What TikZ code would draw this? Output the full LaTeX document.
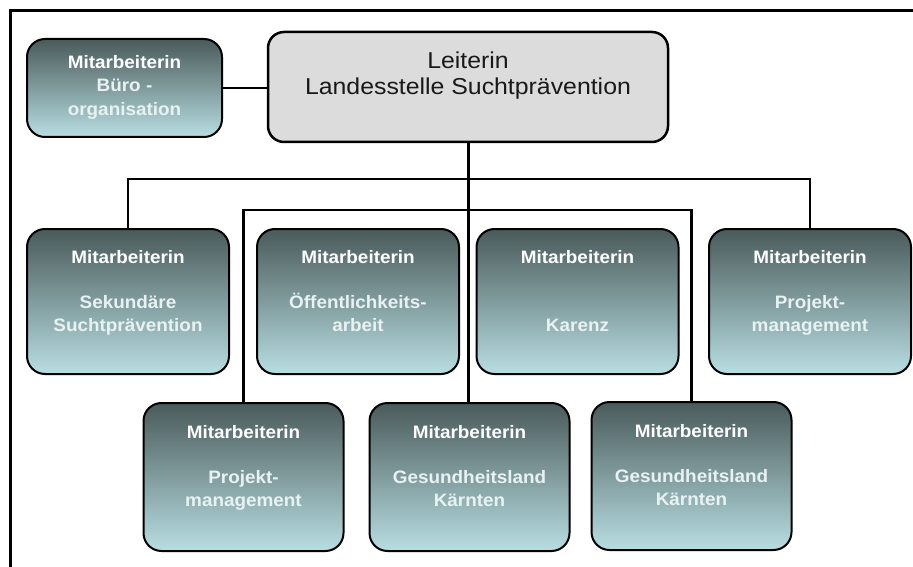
\documentclass[tikz,border=0pt]{standalone}
\usepackage{fontspec}
\setmainfont{Liberation Sans}
\newfontfamily\boxfont[FakeStretch=1.05]{Liberation Sans}
\newfontfamily\headfont[FakeStretch=1.08]{Liberation Sans}
\definecolor{boxtop}{RGB}{74,90,90}
\definecolor{boxbot}{RGB}{184,222,226}
\definecolor{headfill}{RGB}{220,220,220}
\definecolor{subtext}{RGB}{232,242,243}

\begin{document}
\begin{tikzpicture}[x=1pt,y=-1pt,
  staff/.style={draw=black, line width=2pt, rounded corners=18pt,
    top color=boxtop, bottom color=boxbot, inner sep=0pt},
  head/.style={draw=black, line width=2.5pt, rounded corners=16pt,
    fill=headfill, inner sep=0pt, minimum width=400pt, minimum height=110pt},
  rowbox/.style={staff, minimum width=202pt, minimum height=145pt},
  lowbox/.style={staff, minimum width=200pt, minimum height=148pt},
  stafftext/.style={anchor=north, inner sep=0pt, align=center, text=subtext,
    font=\boxfont\bfseries\fontsize{18}{22.7}\selectfont},
  headtext/.style={anchor=north, inner sep=0pt, align=center, text=black!90,
    font=\headfont\fontsize{23}{26}\selectfont},
  link/.style={draw=black, line width=2.2pt},
  trunk/.style={draw=black, line width=3pt}
]
\useasboundingbox (0,0) rectangle (913,567);

% outer frame (open to the right and bottom)
\draw[line width=3pt] (10,575) -- (10,11) -- (920,11);

% head of the office
\node[head] (lead) at (468,87) {};
\node[headtext, yshift=-21pt] (leadtxt) at (lead.north)
  {Leiterin\\Landesstelle Suchtprävention};

% office organisation
\node[staff, minimum width=195pt, minimum height=98pt] (buero) at (124.5,88) {};
\node[stafftext, yshift=-17pt] (buerotxt) at (buero.north)
  {\textcolor{white}{Mitarbeiterin}\\[1pt]Büro -\\[1pt]organisation};

% first row
\node[rowbox] (sek) at (128,301.5) {};
\node[stafftext, yshift=-22pt] (sektxt) at (sek.north)
  {\textcolor{white}{Mitarbeiterin}\\[22.7pt]Sekundäre\\Suchtprävention};
\node[rowbox] (oeff) at (358,301.5) {};
\node[stafftext, yshift=-22pt] (oefftxt) at (oeff.north)
  {\textcolor{white}{Mitarbeiterin}\\[22.7pt]Öffentlichkeits-\\arbeit};
\node[rowbox] (karenz) at (577.5,301.5) {};
\node[stafftext, yshift=-22pt] (karenztxt) at (karenz.north)
  {\textcolor{white}{Mitarbeiterin}\\[45.4pt]Karenz};
\node[rowbox] (pmA) at (810,301.5) {};
\node[stafftext, yshift=-22pt] (pmAtxt) at (pmA.north)
  {\textcolor{white}{Mitarbeiterin}\\[22.7pt]Projekt-\\management};

% second row
\node[lowbox] (pmB) at (243.5,477) {};
\node[stafftext, yshift=-23pt] (pmBtxt) at (pmB.north)
  {\textcolor{white}{Mitarbeiterin}\\[22.7pt]Projekt-\\management};
\node[lowbox] (gkA) at (469.5,477) {};
\node[stafftext, yshift=-23pt] (gkAtxt) at (gkA.north)
  {\textcolor{white}{Mitarbeiterin}\\[22.7pt]Gesundheitsland\\Kärnten};
\node[lowbox] (gkB) at (691.5,476) {};
\node[stafftext, yshift=-23pt] (gkBtxt) at (gkB.north)
  {\textcolor{white}{Mitarbeiterin}\\[22.7pt]Gesundheitsland\\Kärnten};

% connectors
\coordinate (busA) at (468,179);
\coordinate (busB) at (468,210);
\draw[link] (buero.east) -- (buero.east -| lead.west);
\draw[trunk] (lead.south) -- (lead.south |- gkA.north);
\draw[link] (sek.north) |- (busA) -| (pmA.north);
\draw[link] (pmB.north) |- (busB) -| (gkB.north);
\end{tikzpicture}
\end{document}
